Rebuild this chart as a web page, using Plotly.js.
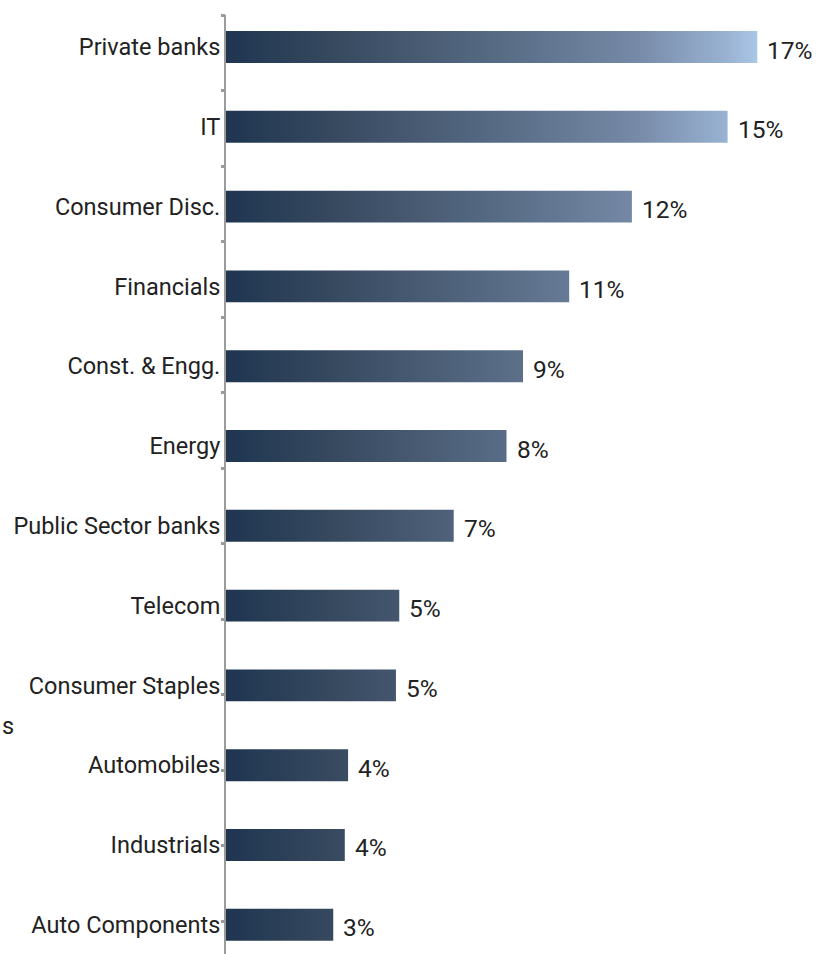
<!DOCTYPE html>
<html>
<head>
<meta charset="utf-8">
<script src="https://cdn.plot.ly/plotly-3.0.1.min.js"></script>
<style>
html,body{margin:0;padding:0;background:#fff;overflow:hidden;}
#chart{width:832px;height:954px;}
</style>
</head>
<body>
<div id="chart"></div>
<script>
// Sectors, top to bottom
const categories = ["Private banks","IT","Consumer Disc.","Financials","Const. & Engg.","Energy",
  "Public Sector banks","Telecom","Consumer Staples","Automobiles","Industrials","Auto Components"];
// Bar lengths (%)
const values = [16.1, 15.2, 12.3, 10.4, 9.0, 8.5, 6.9, 5.25, 5.15, 3.7, 3.6, 3.25];
// Printed data labels
const labels = ["17%","15%","12%","11%","9%","8%","7%","5%","5%","4%","4%","3%"];

const TICKFONT = {family: "Roboto, 'Open Sans', sans-serif", size: 23.5, color: "#222222"};
const LABELFONT = {family: "Roboto, 'Open Sans', sans-serif", size: 24.5, color: "#222222"};
const GREY = "#9b9b9b";

const trace = {
  type: "bar",
  orientation: "h",
  x: values,
  y: categories,
  marker: {color: "#2a3f5a", line: {width: 0}},
  hoverinfo: "skip",
  cliponaxis: false
};

const annotations = values.map((v, i) => ({
  x: v, y: categories[i], xref: "x", yref: "y",
  text: labels[i], showarrow: false,
  xanchor: "left", yanchor: "middle",
  xshift: 8, yshift: -3,
  font: LABELFONT
}));
// fragment of text at the left edge
annotations.push({
  xref: "paper", yref: "paper", x: -0.3805, y: 0.243,
  xanchor: "left", yanchor: "middle", text: "s", showarrow: false, font: TICKFONT
});

const layout = {
  width: 832, height: 954,
  margin: {l: 226, r: 12, t: 15, b: 0, pad: 0},
  paper_bgcolor: "#ffffff", plot_bgcolor: "#ffffff",
  showlegend: false,
  bargap: 0.6,
  font: TICKFONT,
  xaxis: {
    range: [0, 18], visible: false, fixedrange: true
  },
  yaxis: {
    type: "category",
    categoryorder: "array", categoryarray: categories,
    range: [11.366, -0.401],
    showline: true, linecolor: GREY, linewidth: 2,
    ticks: "", showgrid: false, zeroline: false,
    ticklabelstandoff: -1,
    tickfont: TICKFONT, fixedrange: true
  },
  yaxis2: {
    overlaying: "y", anchor: "x", side: "left",
    range: [12.437, 0], tickmode: "linear", tick0: 0, dtick: 1,
    ticks: "outside", ticklen: 4, tickwidth: 3, tickcolor: GREY,
    showticklabels: false, showgrid: false, zeroline: false, showline: false,
    fixedrange: true
  },
  annotations: annotations
};

const gd = document.getElementById("chart");
Plotly.newPlot(gd, [trace, {type: "scatter", x: [null], y: [null], yaxis: "y2", hoverinfo: "skip", showlegend: false}], layout, {staticPlot: true, displayModeBar: false})
.then(() => {
  const svg = gd.querySelector("svg.main-svg");
  let defs = svg.querySelector("defs");
  if (!defs) { defs = document.createElementNS("http://www.w3.org/2000/svg", "defs"); svg.insertBefore(defs, svg.firstChild); }
  const xa = gd._fullLayout.xaxis;
  const grad = document.createElementNS("http://www.w3.org/2000/svg", "linearGradient");
  grad.setAttribute("id", "barGrad");
  grad.setAttribute("gradientUnits", "userSpaceOnUse");
  grad.setAttribute("x1", xa.d2p(0)); grad.setAttribute("y1", 0);
  grad.setAttribute("x2", xa.d2p(Math.max(...values))); grad.setAttribute("y2", 0);
  [[0, "#1f3550"], [0.2, "#36495f"], [0.53, "#5a6d87"], [0.76, "#7487a4"], [0.945, "#9ab3d3"], [1, "#aac7e8"]]
    .forEach(([o, c]) => {
      const s = document.createElementNS("http://www.w3.org/2000/svg", "stop");
      s.setAttribute("offset", o); s.setAttribute("stop-color", c);
      grad.appendChild(s);
    });
  defs.appendChild(grad);
  gd.querySelectorAll(".barlayer .point path").forEach(p => { p.style.fill = "url(#barGrad)"; });
});
</script>
</body>
</html>
